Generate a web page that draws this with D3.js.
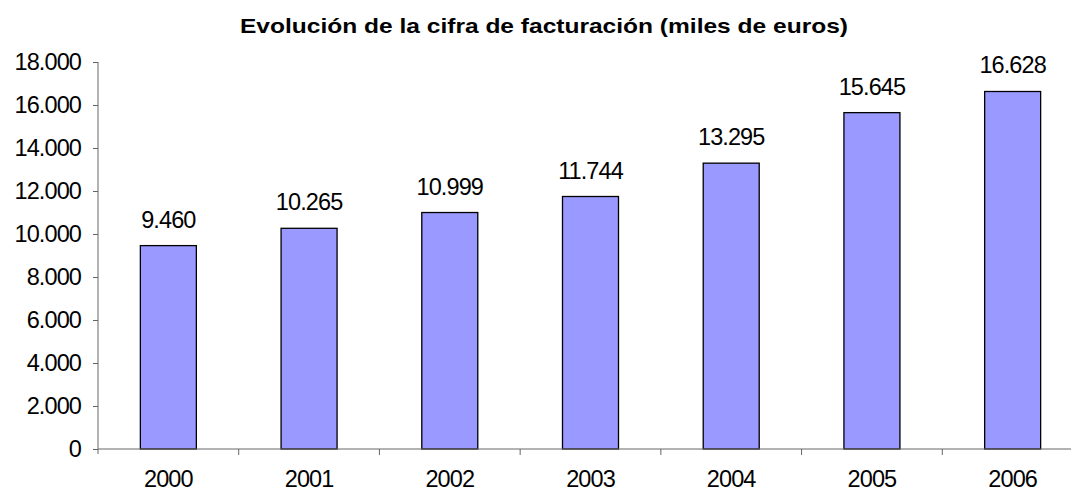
<!DOCTYPE html>
<html><head><meta charset="utf-8">
<script src="https://cdn.jsdelivr.net/npm/d3@7"></script>
<style>
html,body{margin:0;padding:0;background:#fff;}
svg text{font-family:"Liberation Sans",Arial,sans-serif;}
</style></head>
<body><svg id="c" width="1071" height="492"></svg>
<script>
const title = "Evolución de la cifra de facturación (miles de euros)";
const categories = ["2000","2001","2002","2003","2004","2005","2006"];
const values = [9460, 10265, 10999, 11744, 13295, 15645, 16628];
const yTicks = [0,2000,4000,6000,8000,10000,12000,14000,16000,18000];

const svg = d3.select("#c");
const fmt = v => d3.format(",")(v).replace(/,/g, ".");
const axisColor = "#666";
const fs = 23.5, ls = "-0.9px";

const x = d3.scaleBand().domain(categories).range([98, 1083]).paddingInner(0).paddingOuter(0);
const y = d3.scaleLinear().domain([0, 18000]).range([449, 62]);

// title
svg.append("text").attr("x", 240).attr("y", 32.5)
  .attr("font-weight","bold").attr("font-size", 21)
  .attr("textLength", 608).attr("lengthAdjust","spacingAndGlyphs")
  .text(title);

// y axis
const yAxis = svg.append("g").attr("transform","translate(98,0)")
  .call(d3.axisLeft(y).tickValues(yTicks).tickFormat(fmt).tickSize(5).tickPadding(12));
yAxis.select(".domain").attr("stroke", axisColor).attr("d","M0,62V454");
yAxis.selectAll(".tick line").attr("stroke", axisColor);
yAxis.selectAll(".tick text").attr("font-size", fs).attr("letter-spacing", ls).attr("fill","#000").attr("dy","0.33em");

// bars
const barW = 56;
svg.append("g").selectAll("rect").data(values).join("rect")
  .attr("x", (d,i) => x(categories[i]) + x.bandwidth()/2 - barW/2)
  .attr("y", d => y(d))
  .attr("width", barW)
  .attr("height", d => y(0) - y(d))
  .attr("fill", "#9999FF").attr("stroke","#000").attr("stroke-width",1.3);

// x axis
const boundaries = categories.map(c => x(c));
const xg = svg.append("g");
xg.append("line").attr("x1",98).attr("x2",1071).attr("y1",y(0)).attr("y2",y(0)).attr("stroke",axisColor);
xg.selectAll("line.t").data(boundaries.slice(1)).join("line").attr("class","t")
  .attr("x1",d=>d).attr("x2",d=>d).attr("y1",y(0)).attr("y2",y(0)+6).attr("stroke",axisColor);
xg.selectAll("text").data(categories).join("text")
  .attr("x", d => x(d) + x.bandwidth()/2).attr("y", 486.5)
  .attr("text-anchor","middle").attr("font-size",fs).attr("letter-spacing",ls)
  .text(d => d);

// data labels
svg.append("g").selectAll("text").data(values).join("text")
  .attr("x", (d,i) => x(categories[i]) + x.bandwidth()/2)
  .attr("y", d => y(d) - 18)
  .attr("text-anchor","middle").attr("font-size",fs).attr("letter-spacing",ls)
  .text(d => fmt(d));
</script></body></html>
